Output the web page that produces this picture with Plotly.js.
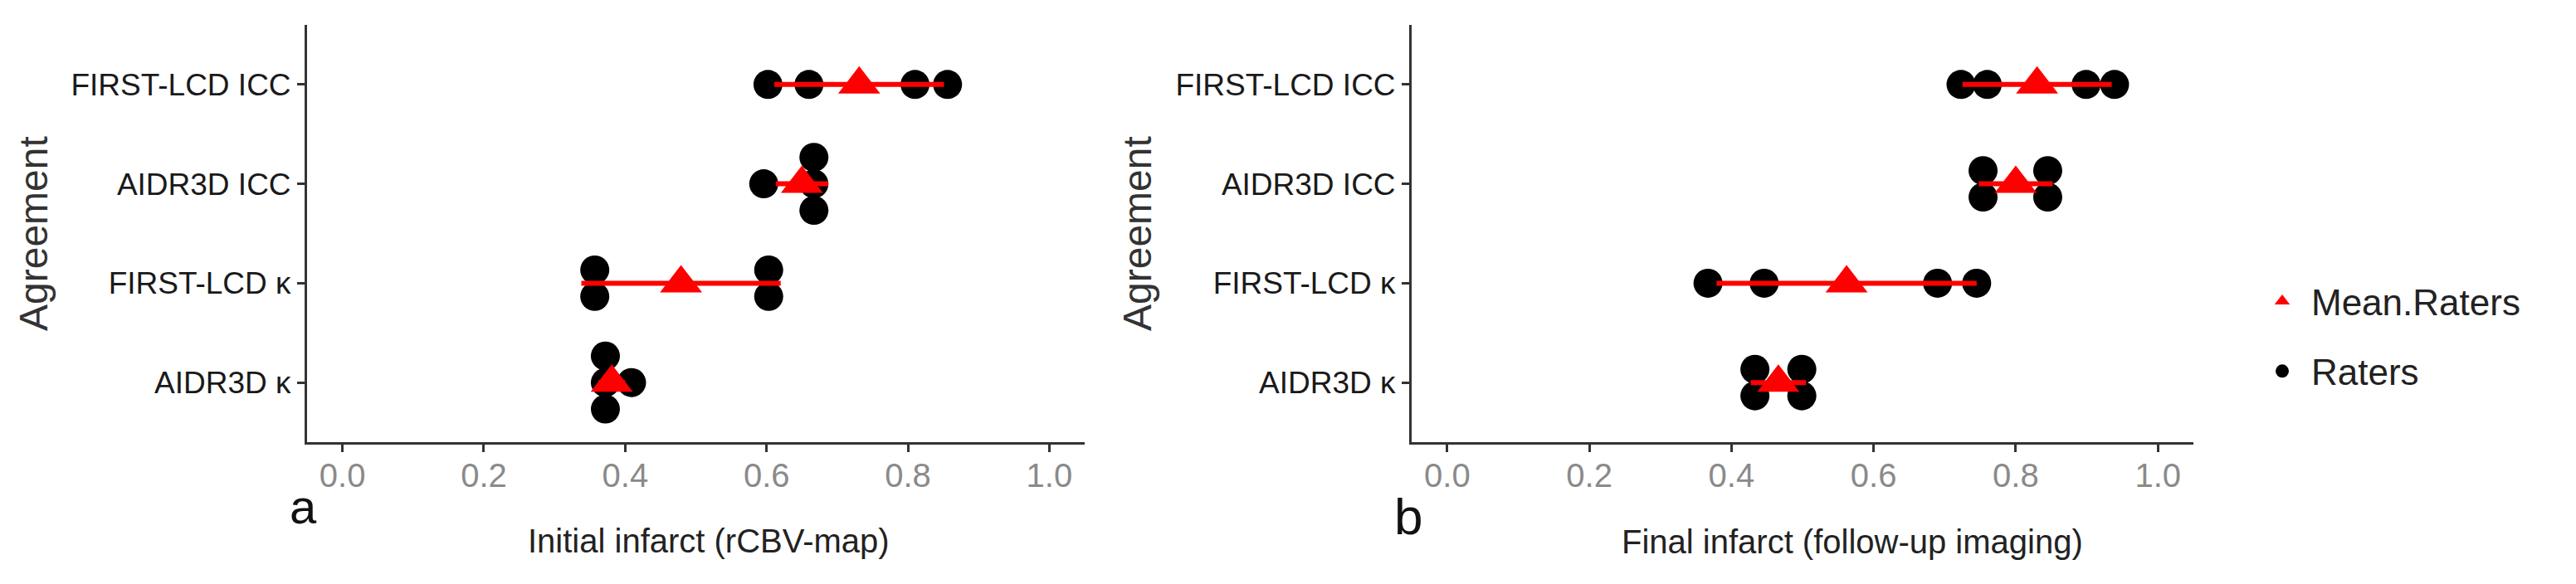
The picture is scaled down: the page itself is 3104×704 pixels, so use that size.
<!DOCTYPE html>
<html>
<head>
<meta charset="utf-8">
<script src="https://cdn.plot.ly/plotly-3.0.1.min.js"></script>
<style>
  html, body { margin: 0; padding: 0; background: #ffffff; }
  #chart { width: 3104px; height: 704px; }
</style>
</head>
<body>
<div id="chart"></div>
<script>
// ---------- DATA ----------
// categories, bottom to top
const categories = ['AIDR3D κ', 'FIRST-LCD κ', 'AIDR3D ICC', 'FIRST-LCD ICC'];

// Panel a: Initial infarct (rCBV-map) — four raters per category
const initialRaters = [
  [0.372, 0.372, 0.372, 0.409],
  [0.357, 0.357, 0.603, 0.603],
  [0.596, 0.667, 0.667, 0.667],
  [0.602, 0.660, 0.810, 0.856]
];
const initialMean = [0.381, 0.479, 0.650, 0.731];
const initialSD   = [0.019, 0.141, 0.037, 0.120];

// Panel b: Final infarct (follow-up imaging)
const finalRaters = [
  [0.433, 0.433, 0.499, 0.499],
  [0.367, 0.446, 0.690, 0.745],
  [0.754, 0.754, 0.845, 0.845],
  [0.723, 0.760, 0.899, 0.939]
];
const finalMean = [0.466, 0.562, 0.800, 0.830];
const finalSD   = [0.039, 0.183, 0.052, 0.105];

const xTickValues = [0, 0.2, 0.4, 0.6, 0.8, 1.0];
const xTickLabels = ['0.0', '0.2', '0.4', '0.6', '0.8', '1.0'];

const panelTitles = ['Initial infarct (rCBV-map)', 'Final infarct (follow-up imaging)'];
const panelLetters = ['a', 'b'];
const yTitle = 'Agreement';
const legendNames = ['Mean.Raters', 'Raters'];

// ---------- helpers ----------
const W = 3104, H = 704;
const px = v => v / W;
const py = v => 1 - v / H;
const STACK = 0.267;   // dot-stack spacing in category units (dotplot, stackdir = center)
const FONT = '"Liberation Sans", Arial, sans-serif';

// centred dot stacking of equal values (like geom_dotplot)
function stackDots(rows) {
  const xs = [], ys = [];
  rows.forEach((vals, ci) => {
    const groups = [];
    vals.forEach(v => {
      let g = groups.find(gr => Math.abs(gr.v - v) < 0.006);
      if (!g) { g = { v: v, items: [] }; groups.push(g); }
      g.items.push(v);
    });
    groups.forEach(g => {
      const n = g.items.length;
      g.items.forEach((v, i) => {
        xs.push(v);
        ys.push(ci + 1 + (i - (n - 1) / 2) * STACK);
      });
    });
  });
  return { x: xs, y: ys };
}

const catPos = categories.map((c, i) => i + 1);

function panelTraces(raters, means, sds, xa, ya, showLeg) {
  const d = stackDots(raters);
  return [
    {
      type: 'scatter', mode: 'markers', x: d.x, y: d.y, xaxis: xa, yaxis: ya,
      name: legendNames[1], legendrank: 2, showlegend: showLeg, legendgroup: 'r',
      marker: { symbol: 'circle', size: 35, color: '#000000' },
      hoverinfo: 'skip'
    },
    {
      type: 'scatter', mode: 'markers', x: means, y: catPos, xaxis: xa, yaxis: ya,
      name: legendNames[0], legendrank: 1, showlegend: showLeg, legendgroup: 'm',
      marker: { symbol: 'triangle-up', size: 44, color: '#ff0000' },
      error_x: { type: 'data', array: sds, symmetric: true, color: '#ff0000', thickness: 6, width: 0 },
      hoverinfo: 'skip'
    }
  ];
}

const data = []
  .concat(panelTraces(initialRaters, initialMean, initialSD, 'x', 'y', false))
  .concat(panelTraces(finalRaters, finalMean, finalSD, 'x2', 'y2', true));

const yDomain = [1 - 533 / H, 1 - 30 / H];

function xAxis(domain, anchor) {
  return {
    domain: domain, anchor: anchor, range: [-0.05, 1.05],
    tickvals: xTickValues, ticktext: xTickLabels,
    showgrid: false, zeroline: false,
    showline: true, linecolor: '#333333', linewidth: 3,
    ticks: 'outside', ticklen: 9, tickwidth: 3, tickcolor: '#333333',
    ticklabelstandoff: -6,
    tickfont: { family: FONT, size: 40, color: '#8a8a8a' },
    fixedrange: true
  };
}
function yAxis(anchor) {
  return {
    domain: yDomain, anchor: anchor, range: [0.4, 4.6],
    tickvals: catPos, ticktext: categories,
    showgrid: false, zeroline: false,
    showline: true, linecolor: '#333333', linewidth: 3,
    ticks: 'outside', ticklen: 9, tickwidth: 3, tickcolor: '#333333',
    ticklabelstandoff: 0,
    tickfont: { family: FONT, size: 37, color: '#1a1a1a' },
    fixedrange: true
  };
}

const annotations = [
  { text: yTitle, x: px(40), y: py(282), textangle: -90, font: { family: FONT, size: 48, color: '#333333' } },
  { text: yTitle, x: px(1370), y: py(282), textangle: -90, font: { family: FONT, size: 48, color: '#333333' } },
  { text: panelTitles[0], x: px(854), y: py(652), font: { family: FONT, size: 40, color: '#222222' } },
  { text: panelTitles[1], x: px(2232), y: py(653), font: { family: FONT, size: 40, color: '#222222' } },
  { text: panelLetters[0], x: px(365), y: py(610), font: { family: FONT, size: 58, color: '#111111' } },
  { text: panelLetters[1], x: px(1697), y: py(622), font: { family: FONT, size: 62, color: '#111111' } }
].map(a => Object.assign({ xref: 'paper', yref: 'paper', showarrow: false, xanchor: 'center', yanchor: 'middle' }, a));

const layout = {
  width: W, height: H,
  margin: { l: 0, r: 0, t: 0, b: 0, pad: 0 },
  paper_bgcolor: '#ffffff', plot_bgcolor: '#ffffff',
  font: { family: FONT, color: '#222222' },
  xaxis: xAxis([370 / W, 1307 / W], 'y'),
  yaxis: yAxis('x'),
  xaxis2: xAxis([1701 / W, 2643 / W], 'y2'),
  yaxis2: yAxis('x2'),
  showlegend: true,
  legend: {
    x: px(2715), y: py(328), xanchor: 'left', yanchor: 'top',
    font: { family: FONT, size: 44, color: '#222222' },
    bgcolor: 'rgba(0,0,0,0)', itemwidth: 60, tracegroupgap: 24,
    itemclick: false, itemdoubleclick: false
  },
  annotations: annotations
};

Plotly.newPlot('chart', data, layout, { staticPlot: true, displayModeBar: false });
</script>
</body>
</html>
